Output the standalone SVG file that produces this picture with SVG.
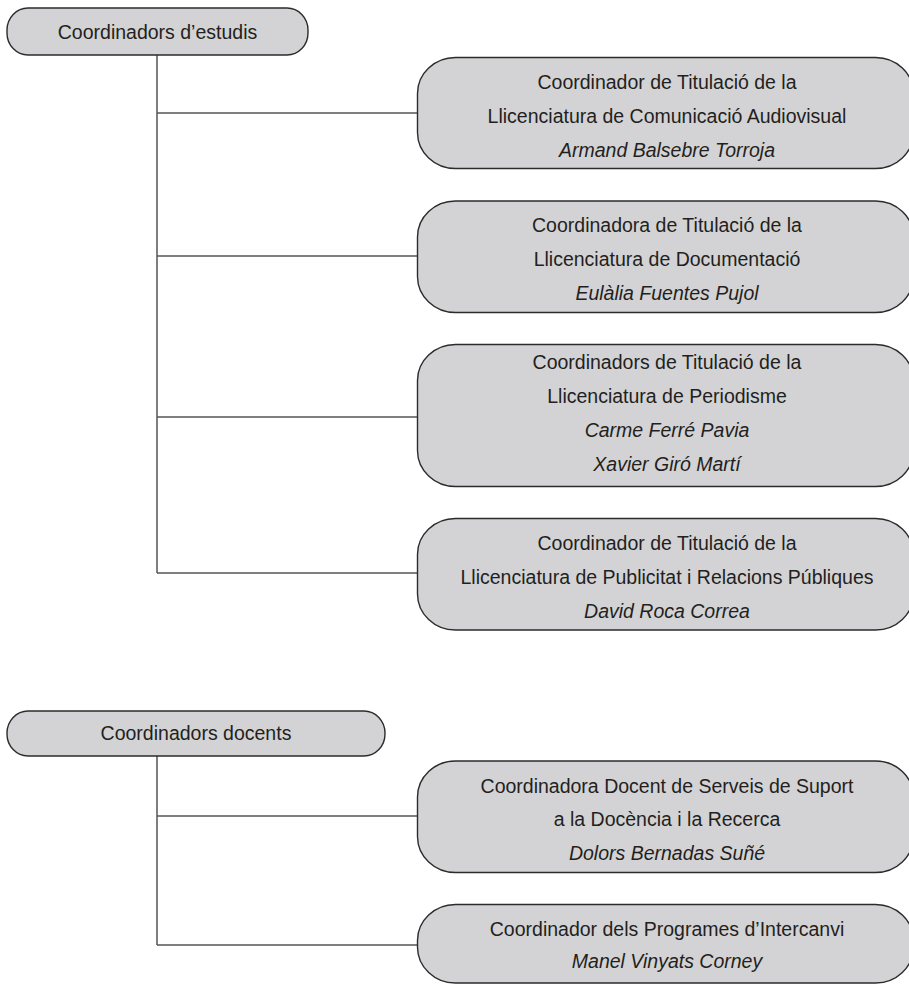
<svg xmlns="http://www.w3.org/2000/svg" width="909" height="984" viewBox="0 0 909 984">
<style>
.box{fill:#d3d3d5;stroke:#2b2b2b;stroke-width:1.4}
.t{font-family:"Liberation Sans",Arial,sans-serif;font-size:19.5px;fill:#231f20;text-anchor:middle}
.i{font-style:italic}
.c{fill:none;stroke:#555;stroke-width:1.5}
</style>
<rect width="909" height="984" fill="#fff"/>
<g id="connectors">
<path class="c" d="M157,55 V573 M157,113 H418 M157,256 H418 M157,417 H418 M157,573 H418"/>
<path class="c" d="M157,756 V945 M157,816 H418 M157,945 H418"/>
</g>
<g id="n-estudis">
<rect class="box" x="7" y="8" width="301" height="47" rx="21" ry="22"/>
<text class="t" x="157.5" y="38.5">Coordinadors d’estudis</text>
</g>
<g id="n-audiovisual">
<rect class="box" x="417.5" y="57.5" width="496" height="111" rx="38" ry="36"/>
<text class="t" x="667" y="88.5">Coordinador de Titulació de la</text>
<text class="t" x="667" y="122.5">Llicenciatura de Comunicació Audiovisual</text>
<text class="t i" x="667" y="156.5">Armand Balsebre Torroja</text>
</g>
<g id="n-documentacio">
<rect class="box" x="417.5" y="201" width="496" height="111.5" rx="38" ry="36"/>
<text class="t" x="667" y="232">Coordinadora de Titulació de la</text>
<text class="t" x="667" y="266">Llicenciatura de Documentació</text>
<text class="t i" x="667" y="300">Eulàlia Fuentes Pujol</text>
</g>
<g id="n-periodisme">
<rect class="box" x="417.5" y="344.5" width="496" height="142" rx="38" ry="36"/>
<text class="t" x="667" y="368.5">Coordinadors de Titulació de la</text>
<text class="t" x="667" y="402.5">Llicenciatura de Periodisme</text>
<text class="t i" x="667" y="436.5">Carme Ferré Pavia</text>
<text class="t i" x="667" y="470.5">Xavier Giró Martí</text>
</g>
<g id="n-publicitat">
<rect class="box" x="417.5" y="518.5" width="496" height="111.5" rx="38" ry="36"/>
<text class="t" x="667" y="549.5">Coordinador de Titulació de la</text>
<text class="t" x="667" y="583.5">Llicenciatura de Publicitat i Relacions Públiques</text>
<text class="t i" x="667" y="617.5">David Roca Correa</text>
</g>
<g id="n-docents">
<rect class="box" x="7" y="711" width="378" height="45" rx="21" ry="22"/>
<text class="t" x="196" y="739.5">Coordinadors docents</text>
</g>
<g id="n-suport">
<rect class="box" x="417.5" y="761" width="496" height="111.5" rx="38" ry="36"/>
<text class="t" x="667" y="792.5">Coordinadora Docent de Serveis de Suport</text>
<text class="t" x="667" y="826">a la Docència i la Recerca</text>
<text class="t i" x="667" y="859.5">Dolors Bernadas Suñé</text>
</g>
<g id="n-intercanvi">
<rect class="box" x="417.5" y="904.5" width="496" height="78.5" rx="38" ry="36"/>
<text class="t" x="667" y="935.5">Coordinador dels Programes d’Intercanvi</text>
<text class="t i" x="667" y="968">Manel Vinyats Corney</text>
</g>
</svg>
